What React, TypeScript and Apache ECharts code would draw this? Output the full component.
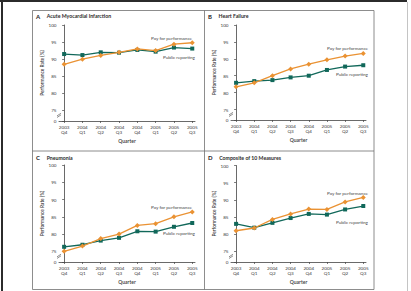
import React, { useEffect, useRef } from "react";
import * as echarts from "echarts";

// Quarter categories shared by every panel
const quarters = ["2003\nQ4", "2004\nQ1", "2004\nQ2", "2004\nQ3", "2004\nQ4", "2005\nQ1", "2005\nQ2", "2005\nQ3"];
const yTicks = [75, 80, 85, 90, 95, 100];
const axisFloor = 71.9; // position standing for "0" below the axis break

const panelLetters = ["A", "B", "C", "D"];
const panelTitles = ["Acute Myocardial Infarction", "Heart Failure", "Pneumonia", "Composite of 10 Measures"];

// Performance rates (%) per quarter
const amiPay = [88.5, 90.0, 91.1, 92.0, 93.0, 92.5, 94.4, 94.8];
const amiPublic = [91.5, 91.2, 92.0, 91.9, 92.7, 92.2, 93.4, 93.1];
const hfPay = [81.7, 82.9, 85.0, 87.0, 88.4, 89.7, 90.8, 91.6];
const hfPublic = [82.9, 83.4, 83.7, 84.5, 85.0, 86.7, 87.7, 88.1];
const pnPay = [75.0, 76.5, 78.7, 80.0, 82.5, 83.0, 85.0, 86.4];
const pnPublic = [76.3, 76.9, 78.1, 78.9, 80.8, 80.7, 82.1, 83.2];
const compPay = [81.0, 81.8, 84.3, 85.9, 87.3, 87.2, 89.4, 90.7];
const compPublic = [83.0, 81.9, 83.3, 84.7, 85.9, 85.7, 87.2, 88.2];

const payColor = "#EA9233";
const publicColor = "#11685A";
const inkColor = "#383838";
const FONT = "Lato, 'Noto Sans', sans-serif";

const grids = [
  { left: 59, top: 25, width: 136, height: 96 },
  { left: 231, top: 25, width: 135, height: 95 },
  { left: 59, top: 165, width: 136, height: 97 },
  { left: 231, top: 165.5, width: 135, height: 96.5 },
];

// Where the two series names sit inside each panel
const seriesNamePos = [
  { pay: [192, 38], pub: [195, 57] },
  { pay: [368, 48], pub: [368, 74] },
  { pay: [192, 206.5], pub: [195, 233] },
  { pay: [368, 192.5], pub: [368, 221.5] },
];

const panelData = [
  [amiPay, amiPublic],
  [hfPay, hfPublic],
  [pnPay, pnPublic],
  [compPay, compPublic],
];

const idx = quarters.map((_, i) => i);

export default function App() {
  const ref = useRef<HTMLDivElement>(null);

  useEffect(() => {
    if (!ref.current) return;
    const chart = echarts.init(ref.current, null, { renderer: "svg" });

    const xAxis = grids.map((_, i) => ({
      type: "value",
      gridIndex: i,
      min: -0.28,
      max: 7.15,
      axisLine: { show: true, lineStyle: { color: "#444", width: 0.8 } },
      axisTick: { show: true, customValues: idx, length: 2, lineStyle: { color: "#444", width: 0.7 } },
      axisLabel: {
        customValues: idx,
        formatter: (v: number) => quarters[Math.round(v)],
        fontSize: 4.6,
        lineHeight: 5.4,
        color: inkColor,
        fontFamily: FONT,
        margin: 3,
      },
      splitLine: { show: false },
      name: "Quarter",
      nameLocation: "middle",
      nameGap: 17,
      nameTextStyle: { fontSize: 5, color: inkColor, fontFamily: FONT, fontWeight: 600 },
    }));

    const yValues = [axisFloor, ...yTicks];
    const yAxis = grids.map((_, i) => ({
      type: "value",
      gridIndex: i,
      min: axisFloor,
      max: 100,
      axisLine: { show: true, lineStyle: { color: "#444", width: 0.8 } },
      axisTick: { show: true, customValues: yValues, length: 2, lineStyle: { color: "#444", width: 0.7 } },
      axisLabel: {
        customValues: yValues,
        formatter: (v: number) => (v < 74 ? "0" : String(v)),
        fontSize: 4.6,
        color: inkColor,
        fontFamily: FONT,
        margin: 2.5,
      },
      splitLine: { show: false },
      name: "Performance Rate (%)",
      nameLocation: "middle",
      nameGap: 15,
      nameRotate: 90,
      nameTextStyle: { fontSize: 4.8, color: inkColor, fontFamily: FONT, fontWeight: 600 },
    }));

    const series: any[] = [];
    panelData.forEach(([pay, pub], i) => {
      series.push({
        type: "line",
        name: "Public reporting",
        xAxisIndex: i,
        yAxisIndex: i,
        data: pub.map((v, k) => [k, v]),
        lineStyle: { color: publicColor, width: 1.3 },
        itemStyle: { color: publicColor },
        symbol: "rect",
        symbolSize: 4,
        z: 3,
      });
      series.push({
        type: "line",
        name: "Pay for performance",
        xAxisIndex: i,
        yAxisIndex: i,
        data: pay.map((v, k) => [k, v]),
        lineStyle: { color: payColor, width: 1.3 },
        itemStyle: { color: payColor },
        symbol: "diamond",
        symbolSize: 5,
        z: 4,
      });
    });

    const frame: any[] = [
      { type: "line", shape: { x1: 0, y1: 1, x2: 407, y2: 1 }, style: { stroke: "#2b2b2b", lineWidth: 2 } },
      { type: "line", shape: { x1: 2, y1: 0, x2: 2, y2: 291 }, style: { stroke: "#2b2b2b", lineWidth: 2 } },
      { type: "line", shape: { x1: 407.5, y1: 2, x2: 407.5, y2: 291 }, style: { stroke: "#c4c4c4", lineWidth: 1 } },
      { type: "rect", shape: { x: 32.5, y: 10.5, width: 341.5, height: 279 }, style: { fill: "none", stroke: "#707070", lineWidth: 0.8 } },
      { type: "line", shape: { x1: 204.5, y1: 10.5, x2: 204.5, y2: 289.5 }, style: { stroke: "#707070", lineWidth: 0.8 } },
      { type: "line", shape: { x1: 32.5, y1: 151, x2: 374, y2: 151 }, style: { stroke: "#707070", lineWidth: 0.8 } },
    ];

    const titles: any[] = panelTitles.map((t, i) => ({
      type: "text",
      x: i % 2 === 0 ? 36 : 208,
      y: i < 2 ? 16 : 157.5,
      style: {
        text: `{l|${panelLetters[i]}}  {t|${t}}`,
        rich: {
          l: { fontSize: 6, fontWeight: "bold", fill: "#222", fontFamily: FONT },
          t: { fontSize: 5.2, fontWeight: "bold", fill: "#2a2a2a", fontFamily: FONT },
        },
        verticalAlign: "middle",
        align: "left",
      },
    }));

    const names: any[] = [];
    seriesNamePos.forEach((p) => {
      names.push({
        type: "text",
        x: p.pay[0],
        y: p.pay[1],
        style: { text: "Pay for performance", fontSize: 4.6, fill: "#444", fontFamily: FONT, align: "right", verticalAlign: "middle" },
      });
      names.push({
        type: "text",
        x: p.pub[0],
        y: p.pub[1],
        style: { text: "Public reporting", fontSize: 4.6, fill: "#444", fontFamily: FONT, align: "right", verticalAlign: "middle" },
      });
    });

    chart.setOption({
      animation: false,
      backgroundColor: "#fff",
      grid: grids.map((g) => ({ ...g, containLabel: false })),
      xAxis,
      yAxis,
      series,
      graphic: [...frame, ...titles, ...names],
    });

    // Axis break marks, placed through each panel's own scale
    const breaks: any[] = [];
    grids.forEach((_, i) => {
      const p = chart.convertToPixel({ gridIndex: i }, [-0.28, 73.4]) as number[];
      if (!p) return;
      const [bx, by] = p;
      breaks.push({ type: "rect", shape: { x: bx - 1, y: by - 1.6, width: 2, height: 2.6 }, style: { fill: "#fff" }, z: 100 });
      breaks.push({ type: "line", shape: { x1: bx - 2, y1: by, x2: bx + 2, y2: by - 2.6 }, style: { stroke: "#444", lineWidth: 0.6 }, z: 101 });
      breaks.push({ type: "line", shape: { x1: bx - 2, y1: by + 1.6, x2: bx + 2, y2: by - 1 }, style: { stroke: "#444", lineWidth: 0.6 }, z: 101 });
    });
    chart.setOption({ graphic: [...frame, ...titles, ...names, ...breaks] });

    return () => chart.dispose();
  }, []);

  return (
    <div
      ref={ref}
      style={{ position: "fixed", left: 0, top: 0, width: 411, height: 291, background: "#fff" }}
    />
  );
}
